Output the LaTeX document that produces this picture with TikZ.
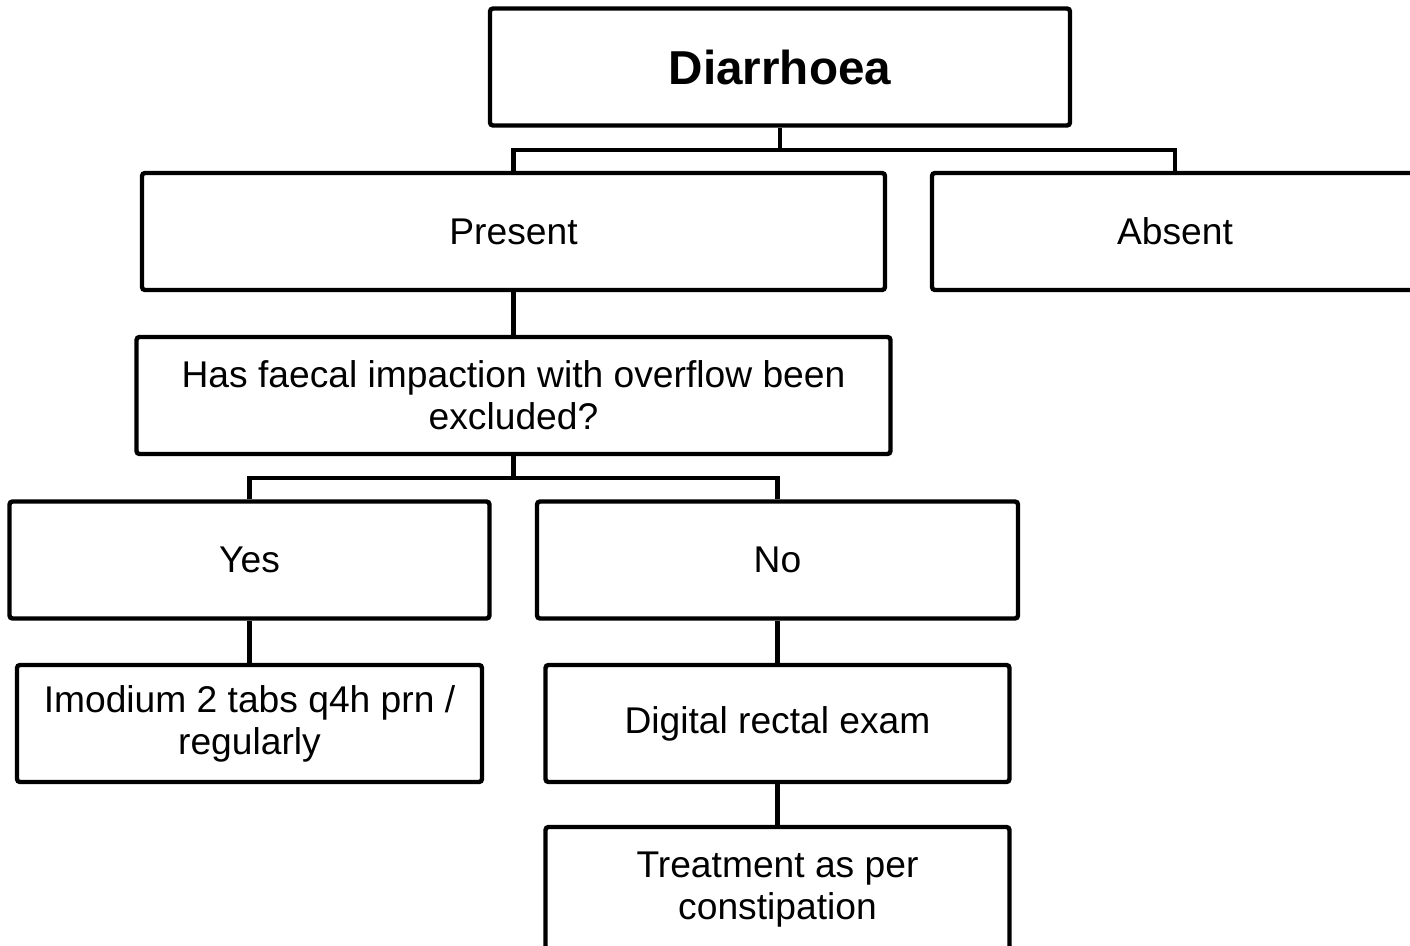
\documentclass[tikz,border=0pt]{standalone}
\usepackage{fontspec}
\setmainfont{Liberation Sans}

\begin{document}
\begin{tikzpicture}[x=0.5pt, y=-0.5pt, line width=2.2pt,
  every node/.style={font=\fontsize{18.6}{21}\selectfont},
  box/.style={draw, rounded corners=1.5pt, align=center, inner sep=0pt, minimum height=58.5pt}]

\useasboundingbox (0,0) rectangle (1410,946);

% ============================
% Top level
% ============================
\node[box, minimum width=290pt, font=\fontsize{23.8}{27}\selectfont\bfseries] (diar) at (780,67) {Diarrhoea};

\node[box, minimum width=371.5pt] (pres) at (513.5,231.5) {Present};
\node[box, minimum width=243pt]   (abs)  at (1175,231.5) {Absent};

\coordinate (j1) at (780,150);
\draw (diar) -- (j1);
\draw (pres.north) |- (j1) -| (abs.north);

% ============================
% Question
% ============================
\node[box, minimum width=377pt] (imp) at (513.5,395.5) {Has faecal impaction with overflow been\\excluded?};
\draw (pres) -- (imp);

% ============================
% Yes / No branches
% ============================
\node[box, minimum width=240pt]   (yes) at (249.5,560) {Yes};
\node[box, minimum width=240.5pt] (no)  at (777.5,560) {No};

\coordinate (j2) at (513.5,478);
\draw (imp) -- (j2);
\draw (yes.north) |- (j2) -| (no.north);

% ============================
% Actions
% ============================
\node[box, minimum width=232.5pt] (imod) at (249.5,723.5) {Imodium 2 tabs q4h prn /\\regularly};
\node[box, minimum width=232pt]   (dre)  at (777.5,723.5) {Digital rectal exam};
\node[box, minimum width=232pt, minimum height=62.5pt] (treat) at (777.5,889.5) {Treatment as per\\constipation};

\draw (yes) -- (imod);
\draw (no) -- (dre);
\draw (dre) -- (treat);

\end{tikzpicture}
\end{document}
